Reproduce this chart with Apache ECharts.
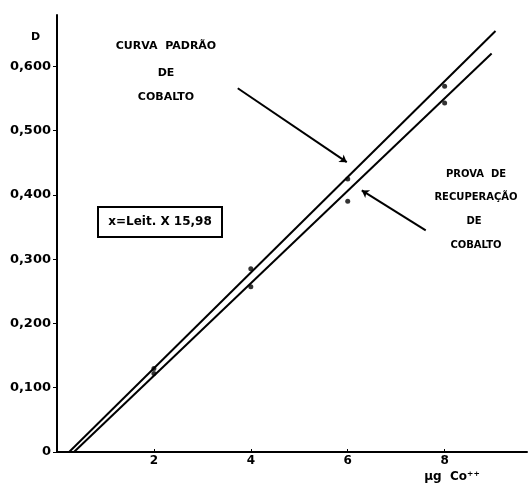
<!DOCTYPE html>
<html><head><meta charset="utf-8">
<script src="https://cdn.jsdelivr.net/npm/echarts@6/dist/echarts.min.js"></script>
<style>html,body{margin:0;padding:0;background:#fff}#c{width:529px;height:487px}</style>
</head><body><div id="c"></div>
<script>
// Data
var xPoints = [2, 4, 6, 8];
var padraoValues = [0.130, 0.285, 0.425, 0.569];      // Curva padrão de cobalto
var recuperacaoValues = [0.122, 0.257, 0.390, 0.543]; // Prova de recuperação de cobalto
var padraoLine = [[0.25, 0], [9.05, 0.655]];
var recuperacaoLine = [[0.35, 0], [8.97, 0.620]];
var yTicks = [0, 0.1, 0.2, 0.3, 0.4, 0.5, 0.6];
var yTickLabels = ['0', '0,100', '0,200', '0,300', '0,400', '0,500', '0,600'];
var xTicks = [2, 4, 6, 8];
var xTickLabels = ['2', '4', '6', '8'];
var arrowPadrao = [[3.73, 0.566], [5.98, 0.451]];
var arrowRecuperacao = [[7.61, 0.345], [6.29, 0.407]];

var F = 'DejaVu Sans';
function pairs(xs, ys){ return xs.map(function(x,i){return [x, ys[i]];}); }

var chart = echarts.init(document.getElementById('c'));
chart.setOption({
  animation: false,
  backgroundColor: '#fff',
  grid: {left: 57, top: 15, width: 470, height: 437},
  xAxis: {
    type: 'value', min: 0, max: 9.7,
    axisLine: {lineStyle: {color: '#000', width: 2}},
    axisTick: {inside: true, length: 3, customValues: xTicks, lineStyle: {color: '#000'}},
    axisLabel: {customValues: xTicks, formatter: function(v){ return xTickLabels[xTicks.indexOf(v)] || ''; },
      color: '#000', fontFamily: F, fontWeight: 'bold', fontSize: 12, margin: 3},
    splitLine: {show: false}
  },
  yAxis: {
    type: 'value', min: 0, max: 0.68,
    axisLine: {show: true, lineStyle: {color: '#000', width: 2}},
    axisTick: {show: true, length: 4, customValues: yTicks, lineStyle: {color: '#000'}},
    axisLabel: {customValues: yTicks, formatter: function(v){ var i = -1; yTicks.forEach(function(t,k){ if (Math.abs(t-v)<1e-6) i=k; }); return i>=0 ? yTickLabels[i] : ''; },
      color: '#000', fontFamily: F, fontWeight: 'bold', fontSize: 13, margin: 6},
    splitLine: {show: false}
  },
  series: [
    {type: 'line', data: padraoLine, symbol: 'none', lineStyle: {color: '#000', width: 2}},
    {type: 'line', data: recuperacaoLine, symbol: 'none', lineStyle: {color: '#000', width: 2}},
    {type: 'scatter', data: pairs(xPoints, padraoValues), symbol: 'circle', symbolSize: 5, itemStyle: {color: '#000'}},
    {type: 'scatter', data: pairs(xPoints, recuperacaoValues), symbol: 'circle', symbolSize: 5, itemStyle: {color: '#000'}},
    {type: 'line', data: [], markLine: {silent: true, symbol: ['none', 'arrow'], symbolSize: 7, label: {show: false},
      lineStyle: {color: '#000', width: 2, type: 'solid'},
      data: [
        [{coord: arrowPadrao[0]}, {coord: arrowPadrao[1]}],
        [{coord: arrowRecuperacao[0]}, {coord: arrowRecuperacao[1]}]
      ]}}
  ],
  graphic: [
    {type: 'text', left: 31, top: 32, style: {text: 'D', font: 'bold 11px "DejaVu Sans"', fill: '#000'}},
    {type: 'text', x: 166, y: 46, style: {text: 'CURVA  PADRÃO', font: 'bold 11px "DejaVu Sans"', fill: '#000', align: 'center', verticalAlign: 'middle'}},
    {type: 'text', x: 166, y: 73, style: {text: 'DE', font: 'bold 11px "DejaVu Sans"', fill: '#000', align: 'center', verticalAlign: 'middle'}},
    {type: 'text', x: 166, y: 97, style: {text: 'COBALTO', font: 'bold 11px "DejaVu Sans"', fill: '#000', align: 'center', verticalAlign: 'middle'}},
    {type: 'text', x: 476, y: 174, style: {text: 'PROVA  DE', font: 'bold 10px "DejaVu Sans"', fill: '#000', align: 'center', verticalAlign: 'middle'}},
    {type: 'text', x: 476, y: 197, style: {text: 'RECUPERAÇÃO', font: 'bold 10px "DejaVu Sans"', fill: '#000', align: 'center', verticalAlign: 'middle'}},
    {type: 'text', x: 474, y: 221, style: {text: 'DE', font: 'bold 10px "DejaVu Sans"', fill: '#000', align: 'center', verticalAlign: 'middle'}},
    {type: 'text', x: 476, y: 245, style: {text: 'COBALTO', font: 'bold 10px "DejaVu Sans"', fill: '#000', align: 'center', verticalAlign: 'middle'}},
    {type: 'rect', shape: {x: 98, y: 207, width: 124, height: 30}, style: {fill: 'none', stroke: '#000', lineWidth: 2}},
    {type: 'text', x: 160, y: 222, style: {text: 'x=Leit. X 15,98', font: 'bold 12px "DejaVu Sans"', fill: '#000', align: 'center', verticalAlign: 'middle'}},
    {type: 'text', x: 452, y: 477, style: {text: 'μg  Co⁺⁺', font: 'bold 12px "DejaVu Sans"', fill: '#000', align: 'center', verticalAlign: 'middle'}}
  ]
});
</script></body></html>
